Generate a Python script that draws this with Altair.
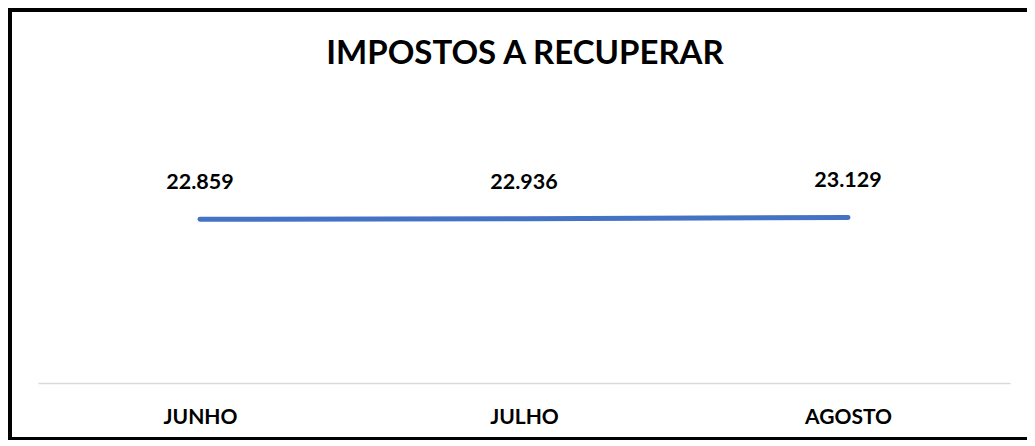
import altair as alt
import pandas as pd

months = ["JUNHO", "JULHO", "AGOSTO"]
values = [22859, 22936, 23129]
labels = ["22.859", "22.936", "23.129"]
title_text = "IMPOSTOS A RECUPERAR"

df = pd.DataFrame({"mes": months, "valor": values, "rotulo": labels})

FONT = "Lato"
TOTAL_W, TOTAL_H = 1019, 432
PLOT_W, PLOT_H = 972, 179
PAD = {"left": 30, "top": 196}
PAD["right"] = TOTAL_W - PAD["left"] - PLOT_W
PAD["bottom"] = TOTAL_H - PAD["top"] - PLOT_H

x = alt.X(
    "mes:N",
    sort=months,
    scale=alt.Scale(type="point", padding=0.5),
    axis=alt.Axis(
        title=None,
        ticks=False,
        domainColor="#D9D9D9",
        domainWidth=1.5,
        labelFont=FONT,
        labelFontSize=21,
        labelFontWeight="bold",
        labelColor="#000000",
        labelPadding=23,
        labelAngle=0,
        grid=False,
    ),
)
y = alt.Y("valor:Q", scale=alt.Scale(domain=[0, 25000]), axis=None)

base = alt.Chart(df).encode(x=x, y=y)

line = base.mark_line(color="#4472C4", strokeWidth=5, strokeCap="round")

text = base.mark_text(
    font=FONT, fontSize=21.5, fontWeight="bold", color="#000000",
    baseline="bottom", dy=-25,
).encode(text="rotulo:N")

title = alt.Chart(pd.DataFrame({"t": [title_text]})).mark_text(
    font=FONT, fontSize=33, fontWeight="bold", color="#000000", baseline="middle",
).encode(text="t:N", x=alt.value(PLOT_W / 2 + 1), y=alt.value(54 - 8 - PAD["top"]))

# frame: left, top and bottom edges (right edge is cut off in the reference)
edge = alt.Chart(pd.DataFrame({"f": [0]}))
left_edge = edge.mark_rule(color="#000000", strokeWidth=4).encode(
    x=alt.value(2 - PAD["left"]),
    y=alt.value(-PAD["top"]),
    y2=alt.value(PLOT_H + PAD["bottom"]),
)
top_edge = edge.mark_rule(color="#000000", strokeWidth=4).encode(
    x=alt.value(-PAD["left"]),
    x2=alt.value(PLOT_W + PAD["right"]),
    y=alt.value(2 - PAD["top"]),
)
bottom_edge = edge.mark_rule(color="#000000", strokeWidth=3).encode(
    x=alt.value(-PAD["left"]),
    x2=alt.value(PLOT_W + PAD["right"]),
    y=alt.value(PLOT_H + PAD["bottom"] - 1.5),
)

chart = alt.layer(left_edge, top_edge, bottom_edge, title, line, text).properties(
    width=PLOT_W,
    height=PLOT_H,
    autosize=alt.AutoSizeParams(type="none"),
    padding=PAD,
).configure_view(stroke=None)

chart.save("out.html", embed_options={"renderer": "svg", "actions": False})
